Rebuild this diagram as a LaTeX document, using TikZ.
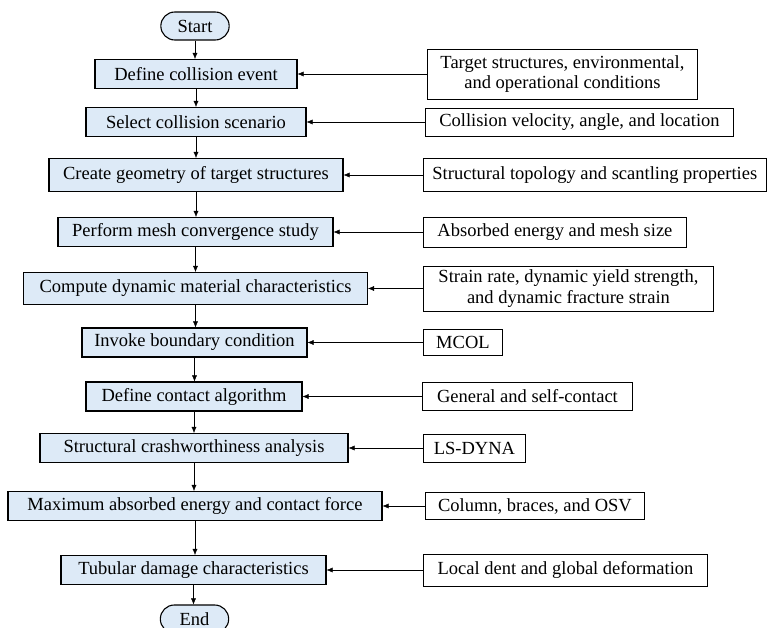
\documentclass[tikz,border=0pt]{standalone}
\usepackage{fontspec}
\setmainfont{Liberation Serif}
\usetikzlibrary{positioning, arrows.meta, shapes.misc}

\definecolor{procblue}{RGB}{221,234,247}

\tikzset{
  process/.style={draw, fill=procblue, line width=1.1pt, minimum height=29pt, inner xsep=10pt},
  terminal/.style={draw, fill=procblue, line width=1.1pt, rounded rectangle, minimum height=28pt, minimum width=75pt},
  input/.style={draw, line width=0.9pt, anchor=west, minimum height=28pt, inner xsep=9pt, align=center},
}

\begin{document}
\begin{tikzpicture}[x=1pt, y=-1pt, >={Latex[length=6pt,width=5pt]},
    font=\fontsize{18.5}{20.5}\selectfont]
    \useasboundingbox (0,0) rectangle (770,628);

        % flow column
        \node[terminal] (box 0) at (195,26) {Start};
        \node[process, minimum width=202pt] (box 1) at (196,74) {Define collision event};
        \node[process, minimum width=220pt] (box 2) at (196,122) {Select collision scenario};
        \node[process, minimum width=294pt, minimum height=33pt] (box 3) at (196,175) {Create geometry of target structures};
        \node[process, minimum width=275pt] (box 4) at (195.5,232) {Perform mesh convergence study};
        \node[process, minimum width=344pt, minimum height=32pt] (box 5) at (195.5,288.5) {Compute dynamic material characteristics};
        \node[process, minimum width=225pt] (box 6) at (194.5,342.5) {Invoke boundary condition};
        \node[process, minimum width=216pt] (box 7) at (194,396.5) {Define contact algorithm};
        \node[process, minimum width=308pt] (box 8) at (194,448) {Structural crashworthiness analysis};
        \node[process, minimum width=374pt] (box 9) at (195,506) {Maximum absorbed energy and contact force};
        \node[process, minimum width=265pt] (box 10) at (193.5,570) {Tubular damage characteristics};
        \node[terminal] (box 11) at (194.5,619) {End};

        % inputs
        \node[input, minimum width=270pt, minimum height=50pt] (input 1) at (427,74) {Target structures, environmental,\\and operational conditions};
        \node[input, minimum width=308pt] (input 2) at (425,122) {Collision velocity, angle, and location};
        \node[input, minimum width=342pt, minimum height=33pt] (input 3) at (423,175) {Structural topology and scantling properties};
        \node[input, minimum width=263pt, minimum height=30pt] (input 4) at (423,232) {Absorbed energy and mesh size};
        \node[input, minimum width=290pt, minimum height=45pt] (input 5) at (423,288.5) {Strain rate, dynamic yield strength,\\and dynamic fracture strain};
        \node[input, minimum width=79pt, minimum height=26pt] (input 6) at (423,342.5) {MCOL};
        \node[input, minimum width=210pt] (input 7) at (422,396.5) {General and self-contact};
        \node[input, minimum width=102pt] (input 8) at (423,448) {LS-DYNA};
        \node[input, minimum width=219pt, minimum height=27pt] (input 9) at (425,506) {Column, braces, and OSV};
        \node[input, minimum width=284pt, minimum height=32pt] (input 10) at (423,570) {Local dent and global deformation};

        \foreach \i [evaluate=\i as \j using int(\i+1)] in {0,1,...,10}
        \draw[->] (box \i.south) -- (box \i.south |- box \j.north);
        \foreach \i in {1,2,...,10}
        \draw[->] (input \i) -- (box \i);

    \end{tikzpicture}
\end{document}
